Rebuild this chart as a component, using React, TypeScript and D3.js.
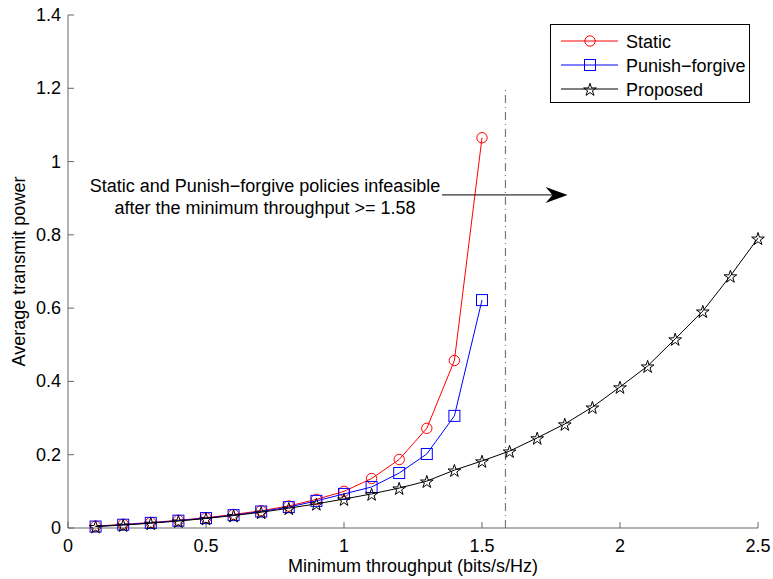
import { useEffect, useRef } from "react";
import * as d3 from "d3";

// values
const throughputShort = [0.1, 0.2, 0.3, 0.4, 0.5, 0.6, 0.7, 0.8, 0.9, 1.0, 1.1, 1.2, 1.3, 1.4, 1.5];
const staticPower = [0.005, 0.01, 0.015, 0.021, 0.028, 0.037, 0.047, 0.06, 0.078, 0.1, 0.135, 0.187, 0.272, 0.457, 1.065];
const punishPower = [0.004, 0.009, 0.014, 0.02, 0.027, 0.035, 0.045, 0.057, 0.074, 0.093, 0.112, 0.15, 0.202, 0.306, 0.622];

const throughputLong = [
  0.1, 0.2, 0.3, 0.4, 0.5, 0.6, 0.7, 0.8, 0.9, 1.0, 1.1, 1.2, 1.3,
  1.4, 1.5, 1.6, 1.7, 1.8, 1.9, 2.0, 2.1, 2.2, 2.3, 2.4, 2.5,
];
const proposedPower = [
  0.004, 0.008, 0.013, 0.019, 0.026, 0.034, 0.043, 0.054, 0.066, 0.079, 0.093, 0.109, 0.128,
  0.158, 0.183, 0.21, 0.246, 0.284, 0.33, 0.385, 0.442, 0.516, 0.592, 0.688, 0.791,
];

const xTicks = [0, 0.5, 1, 1.5, 2, 2.5];
const yTicks = [0, 0.2, 0.4, 0.6, 0.8, 1, 1.2, 1.4];

const limitX = 1.585;
const limitTop = 1.2;
const arrowY = 0.909;
const arrowFrom = 1.355;
const arrowTo = 1.81;

const annotation = [
  "Static and Punish\u2212forgive policies infeasible",
  "after the minimum throughput >= 1.58",
];

const seriesInfo = [
  { name: "Static", color: "#ff0000", marker: "circle" },
  { name: "Punish\u2212forgive", color: "#0000ff", marker: "square" },
  { name: "Proposed", color: "#000000", marker: "star" },
];

const FONT = "'Liberation Sans', Arial, Helvetica, sans-serif";
const FS = 18;

export default function App() {
  const svgRef = useRef<SVGSVGElement>(null);

  useEffect(() => {
    if (!svgRef.current) return;
    const svg = d3.select(svgRef.current);
    svg.selectAll("*").remove();

    const width = 773;
    const height = 579;
    const margin = { top: 15, right: 15, bottom: 51, left: 68 };

    const x = d3.scaleLinear().domain([0, 2.5]).range([margin.left, width - margin.right]);
    const y = d3.scaleLinear().domain([0, 1.4]).range([height - margin.bottom, margin.top]);

    const drawMarker = (g: d3.Selection<SVGGElement, unknown, null, undefined>, kind: string, color: string, cx: number, cy: number) => {
      if (kind === "circle") {
        g.append("circle").attr("cx", cx).attr("cy", cy).attr("r", 5.2)
          .attr("fill", "none").attr("stroke", color).attr("stroke-width", 1);
      } else if (kind === "square") {
        g.append("rect").attr("x", cx - 5.5).attr("y", cy - 5.5).attr("width", 11).attr("height", 11)
          .attr("fill", "none").attr("stroke", color).attr("stroke-width", 1);
      } else {
        g.append("path").attr("d", d3.symbol(d3.symbolStar, 50)()!)
          .attr("transform", `translate(${cx},${cy + 1})`)
          .attr("fill", "none").attr("stroke", color).attr("stroke-width", 1);
      }
    };

    // axes (left and bottom only, ticks inward)
    const axisColor = "#666";
    const axes = svg.append("g");
    axes.append("line").attr("x1", x(0)).attr("x2", x(2.5)).attr("y1", y(0)).attr("y2", y(0))
      .attr("stroke", axisColor);
    axes.append("line").attr("x1", x(0)).attr("x2", x(0)).attr("y1", y(0)).attr("y2", y(1.4))
      .attr("stroke", axisColor);

    xTicks.forEach((t) => {
      axes.append("line").attr("x1", x(t)).attr("x2", x(t)).attr("y1", y(0)).attr("y2", y(0) - 6)
        .attr("stroke", axisColor);
      axes.append("text").attr("x", x(t)).attr("y", y(0) + 24)
        .attr("text-anchor", "middle").attr("font-family", FONT).attr("font-size", FS)
        .attr("fill", "#000").text(String(t));
    });
    yTicks.forEach((t) => {
      axes.append("line").attr("x1", x(0)).attr("x2", x(0) + 6).attr("y1", y(t)).attr("y2", y(t))
        .attr("stroke", axisColor);
      axes.append("text").attr("x", x(0) - 7).attr("y", y(t) + 6)
        .attr("text-anchor", "end").attr("font-family", FONT).attr("font-size", FS)
        .attr("fill", "#000").text(String(t));
    });

    svg.append("text").attr("x", x(1.25)).attr("y", 572)
      .attr("text-anchor", "middle").attr("font-family", FONT).attr("font-size", FS)
      .text("Minimum throughput (bits/s/Hz)");
    svg.append("text")
      .attr("transform", `translate(25,${y(0.7)}) rotate(-90)`)
      .attr("text-anchor", "middle").attr("font-family", FONT).attr("font-size", FS)
      .text("Average transmit power");

    // feasibility limit
    svg.append("line").attr("x1", x(limitX)).attr("x2", x(limitX)).attr("y1", y(0)).attr("y2", y(limitTop))
      .attr("stroke", "#777").attr("stroke-width", 1.2).attr("stroke-dasharray", "8,4,1,4");

    // series
    const line = d3.line<[number, number]>().x((d) => x(d[0])).y((d) => y(d[1]));
    const seriesData: [number, number][][] = [
      throughputShort.map((t, i) => [t, staticPower[i]]),
      throughputShort.map((t, i) => [t, punishPower[i]]),
      throughputLong.map((t, i) => [t, proposedPower[i]]),
    ];
    seriesData.forEach((pts, k) => {
      const info = seriesInfo[k];
      const g = svg.append("g");
      g.append("path").datum(pts).attr("d", line).attr("fill", "none")
        .attr("stroke", info.color).attr("stroke-width", 1);
      pts.forEach((p) => drawMarker(g, info.marker, info.color, x(p[0]), y(p[1])));
    });

    // annotation
    const ann = svg.append("g").attr("font-family", FONT).attr("font-size", FS).attr("text-anchor", "middle");
    annotation.forEach((s, i) => {
      ann.append("text").attr("x", 265).attr("y", y(arrowY) - 3 + i * 22).text(s);
    });
    const ax1 = x(arrowFrom);
    const ax2 = x(arrowTo);
    const ay = y(arrowY);
    svg.append("line").attr("x1", ax1).attr("x2", ax2 - 14).attr("y1", ay).attr("y2", ay)
      .attr("stroke", "#000").attr("stroke-width", 1);
    svg.append("path")
      .attr("d", `M${ax2},${ay} L${ax2 - 22},${ay - 8} L${ax2 - 15},${ay} L${ax2 - 22},${ay + 8} Z`)
      .attr("fill", "#000");

    // legend
    const lg = svg.append("g");
    lg.append("rect").attr("x", 550.5).attr("y", 24.5).attr("width", 199).attr("height", 78)
      .attr("fill", "#fff").attr("stroke", "#000").attr("stroke-width", 1);
    seriesInfo.forEach((info, i) => {
      const ly = 41 + i * 24;
      lg.append("line").attr("x1", 561).attr("x2", 618).attr("y1", ly).attr("y2", ly)
        .attr("stroke", info.color).attr("stroke-width", 1);
      drawMarker(lg, info.marker, info.color, 590, ly);
      lg.append("text").attr("x", 626).attr("y", ly + 6.5)
        .attr("font-family", FONT).attr("font-size", FS).text(info.name);
    });
  }, []);

  return (
    <div style={{ position: "absolute", left: 0, top: 0, width: 773, height: 579, background: "#fff" }}>
      <svg ref={svgRef} width={773} height={579} style={{ display: "block" }} />
    </div>
  );
}
